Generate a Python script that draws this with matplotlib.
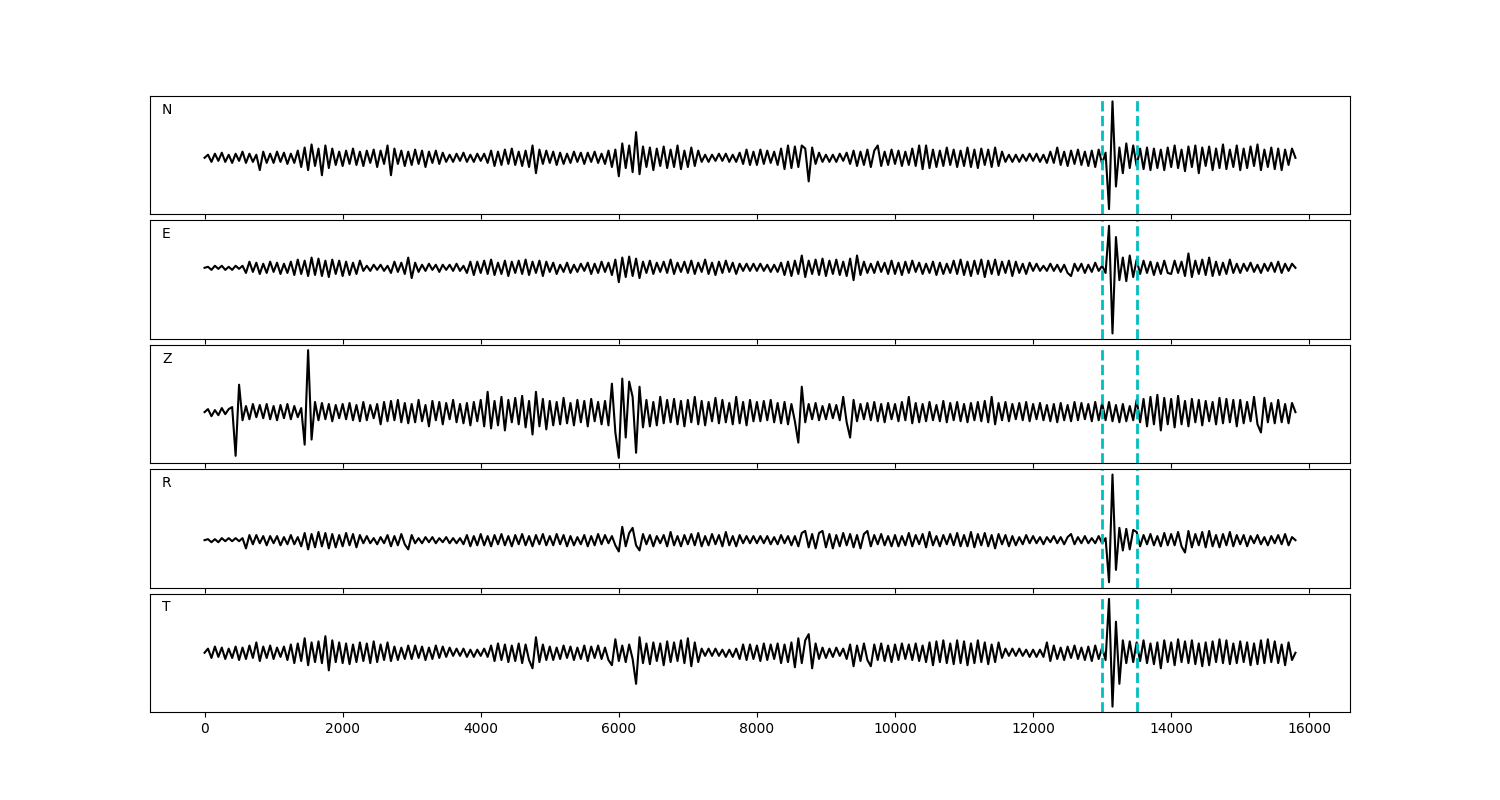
import numpy as np
import matplotlib
matplotlib.use("Agg")
import matplotlib.pyplot as plt

components = ["N", "E", "Z", "R", "T"]
duration = 15800
window_start = 13000
window_end = 13500

N = [
    0, 3, -4, 4, -3, 5, -4, 3, -5, 4, -3, 6, -5, 4, -4, 3, -12, 6, -5, 4,
    -5, 6, -4, 5, -6, 4, -5, 7, -9, 10, -12, 13, -8, 9, -17, 12, -10, 9, -7, 6,
    -8, 7, -6, 9, -7, 6, -8, 7, -5, 8, -9, 7, -6, 12, -17, 9, -6, 7, -8, 6,
    -7, 8, -6, 7, -9, 6, -5, 7, -6, 5, -4, 3, -4, 4, -3, 5, -4, 3, -4, 4,
    -3, 4, -5, 7, -8, 6, -7, 8, -6, 9, -7, 6, -8, 7, -9, 12, -15, 8, -6, 7,
    -5, 6, -7, 5, -6, 4, -5, 6, -4, 5, -6, 5, -4, 6, -5, 4, -6, 7, -9, 8,
    -18, 14, -10, 12, -14, 25, -16, 11, -9, 10, -12, 9, -8, 11, -10, 8, -9, 12, -11, 7,
    -9, 10, -8, 7, -4, 3, -4, 3, -3, 4, -3, 4, -4, 3, -4, 5, -6, 8, -7, 6,
    -7, 8, -6, 7, -5, 6, -7, 9, -11, 12, -10, 11, -9, 12, 9, -23, 10, -6, 5, -4,
    3, -4, 3, -4, 4, -3, 5, -6, 7, -8, 6, -7, 8, -9, 7, 12, -8, 6, -7, 8,
    -6, 7, -8, 6, -7, 9, -8, 12, -11, 12, -10, 8, -9, 7, -8, 10, -7, 8, -9, 7,
    -8, 10, -9, 8, -10, 9, -7, 8, -9, 10, -8, 6, -4, 3, -4, 3, -4, 3, -3, 4,
    -3, 4, -4, 3, -5, 6, -5, 10, -7, 6, -8, 7, -6, 8, -7, 6, -8, 7, -9, 8,
    -6, 5, -50, 55, -28, 10, -15, 14, -10, 12, -8, 9, -11, 10, -12, 9, -10, 8, -12, 10,
    -9, 12, -10, 8, -13, 11, -9, 12, -15, 10, -8, 11, -12, 9, -10, 13, -11, 8, -9, 12,
    -12, 9, -10, 11, -8, 13, -12, 8, -9, 10, -11, 9, -12, 8, -7, 9, 0,
]

E = [
    0, 1, -2, 2, -1, 2, -2, 1, -2, 2, -1, 2, -5, 6, -4, 5, -6, 4, -5, 6,
    -4, 5, -6, 4, -5, 6, -7, 8, -6, 7, -8, 10, -7, 9, -8, 7, -9, 8, -6, 7,
    -8, 6, -7, 5, -6, 7, -3, 2, -3, 3, -2, 3, -3, 2, -5, 6, -4, 5, -6, 10,
    -10, 5, -4, 3, -3, 4, -2, 3, -4, 3, -2, 3, -3, 4, -3, 2, -5, 6, -7, 6,
    -5, 7, -6, 8, -7, 5, -6, 7, -8, 6, -5, 7, -6, 8, -7, 6, -5, 7, -8, 6,
    -4, 5, -6, 3, -4, 5, -5, 3, -4, 4, -3, 5, -6, 4, -5, 6, -4, 5, -7, 8,
    -14, 10, -9, 11, -8, 9, -10, 6, -5, 7, -6, 5, -4, 6, -5, 8, -6, 5, -4, 6,
    -5, 7, -6, 5, -4, 8, -6, 5, -7, 6, -5, 7, -4, 5, -6, 4, -3, 4, -3, 4,
    -3, 4, -3, 3, -4, 3, -4, 5, -7, 6, -8, 7, -6, 12, -9, 7, -6, 8, -7, 9,
    -8, 7, -6, 8, -7, 6, -8, 9, -12, 12, -7, 6, -5, 4, -5, 6, -4, 5, -6, 7,
    -6, 5, -7, 6, -5, 7, -4, 5, -6, 4, -5, 6, -7, 5, -6, 4, -5, 7, -6, 8,
    -7, 6, -8, 7, -6, 8, -9, 7, -6, 8, -7, 6, -5, 7, -8, 6, -5, 4, -6, 5,
    -3, 4, -3, 2, -3, 4, -3, 3, -4, 3, -5, -8, 4, -3, 4, -5, 3, -4, 5, -3,
    2, -5, 41, -64, 30, -12, 10, -13, 12, -9, 8, -6, 7, -5, 6, -7, 5, -6, 7, -5,
    -6, 7, -5, 6, -8, 14, -9, 7, -6, 8, -7, 10, -8, 6, -7, 5, -6, 8, -5, 4,
    -5, 4, -3, 5, -4, 3, -5, 4, -3, 5, -4, 6, -5, 4, -3, 4, 0,
]

Z = [
    0, 3, -4, 2, -3, 4, -2, 3, 5, -43, 27, -8, 6, -7, 8, -5, 7, -6, 8, -7,
    6, -8, 7, -6, 8, -7, 6, -5, 4, -32, 61, -27, 10, -8, 9, -7, 8, -9, 7, -6,
    8, -7, 9, -8, 7, -9, 10, -8, 7, -6, 8, -12, 10, -9, 11, -8, 12, -10, 9, -11,
    8, -10, 12, -9, 7, -14, 11, -8, 10, -12, 9, -7, 12, -10, 8, -11, 9, -13, 10, -9,
    12, -14, 20, -16, 11, -13, 15, -18, 12, -10, 14, -12, 16, -15, 11, -22, 20, -14, 13, -17,
    11, -13, 10, -12, 14, -11, 9, -13, 12, -10, 11, -14, 13, -9, 10, -12, 11, -13, 28, -20,
    -45, 33, -25, 30, 15, -40, 25, -15, 12, -14, 10, -13, 15, -11, 12, -10, 13, -12, 11, -14,
    12, -10, 15, -12, 11, -13, 10, -9, 14, -11, 12, -10, 9, -12, 15, -11, 10, -13, 12, -9,
    10, -9, 11, -8, 12, -10, 9, -11, 10, -12, 8, -9, -30, 25, -10, 8, -7, 9, -8, 6,
    -7, 8, -6, 7, -8, 15, -10, -25, 12, -9, 8, -7, 9, -8, 10, -9, 8, -10, 9, -7,
    8, -9, 10, -8, 15, -11, 9, -10, 8, -9, 10, -8, 7, -9, 11, -10, 9, -8, 10, -9,
    8, -10, 9, -8, 10, -9, 11, -10, 15, -12, 9, -8, 10, -9, 8, -7, 9, -8, 10, -9,
    8, -7, 9, -8, 7, -9, 8, -10, 9, -8, 7, -9, 10, -8, 9, -7, 8, -9, 10, -8,
    9, -8, 10, -9, 7, -10, 8, -9, 6, -8, 12, -10, 13, -14, 15, -12, 17, -18, 14, -12,
    13, -15, 16, -12, 11, -14, 13, -10, 12, -13, 11, -9, 10, -12, 14, -11, 13, -10, 12, -14,
    12, -11, 10, -9, 15, -12, -20, 14, -10, 9, -11, 12, -10, 8, -11, 9, 0,
]

R = [
    0, 1, -2, 1, -2, 2, -1, 2, -1, 2, -1, 2, -8, 5, -4, 5, -3, 4, -5, 4,
    -3, 4, -5, 3, -4, 5, -4, 3, -6, 7, -9, 6, -7, 8, -6, 7, -8, 6, -7, 5,
    -6, 7, -5, 6, -7, 5, -3, 4, -3, 2, -4, 3, -3, 5, -6, 4, -5, 6, -4, -9,
    5, -3, 2, -3, 3, -2, 3, -3, 2, -2, 3, -3, 2, -3, 2, -4, 5, -6, 4, -5,
    6, -5, 4, -6, 5, -4, 6, -5, 4, -6, 5, -4, 6, -5, 4, -6, 5, -4, 6, -5,
    4, -5, 6, -4, 5, -6, 4, -5, 3, -4, 5, -6, 4, -5, 6, -4, 5, -3, 4, -5,
    -11, 13, -6, 7, 12, -5, -10, 6, -4, 5, -6, 4, -3, 5, -6, 8, -5, 4, -6, 5,
    -4, 6, -5, 7, -6, 4, -5, 6, -4, 5, -6, 8, -5, 4, -6, 5, -3, 4, -3, 4,
    -3, 4, -3, 4, -4, 3, -4, 5, -3, 4, -5, 4, -6, 7, 9, -7, 6, -8, 7, 9,
    -7, 6, -8, 5, -6, 7, -5, 6, -7, 5, -8, 6, 9, -6, 5, -4, 6, -5, 4, -6,
    5, -6, 4, -5, 7, -6, 5, -4, 6, -7, 8, -5, 4, -6, 5, -4, 6, -5, 7, -6,
    5, -6, 8, -7, 6, -5, 7, -6, 5, -8, 6, -4, 5, -6, 4, -5, 3, -4, 5, -3,
    4, -3, 3, -4, 3, -2, 4, -3, 3, -4, 3, 6, -4, 3, -3, 4, -3, 2, -3, 4,
    -3, 2, -41, 64, -29, 12, -10, 11, -9, 10, 8, -6, 5, -4, 6, -5, 4, -6, 7, -5,
    6, -5, 8, -6, -12, 9, -7, 6, -5, 8, -7, 9, -6, 5, -7, 6, -5, 8, -6, 5,
    -4, 5, -6, 4, -3, 5, -4, 3, -5, 4, -3, 5, -4, 6, -5, 3, 0,
]

T = [
    0, 4, -5, 6, -4, 5, -6, 4, -5, 6, -7, 5, -6, 7, -5, 10, -8, 6, -5, 7,
    -6, 5, -4, 6, -7, 8, -10, 9, -8, 14, -12, 10, -9, 11, -10, 16, -17, 12, -9, 10,
    -10, 9, -11, 8, -9, 10, -8, 9, -10, 11, -9, 8, -7, 10, -8, 6, -7, 5, -6, 7,
    -6, 7, -5, 6, -7, 5, -6, 7, -5, 6, -4, 5, -3, 4, -3, 4, -4, 3, -4, 3,
    -3, 4, -4, 7, -8, 9, -7, 8, -9, 7, -8, 9, -10, 8, -7, -15, 15, -9, 8, -7,
    6, -7, 5, -6, 7, -5, 6, -7, 5, -6, 7, -8, 6, -5, 7, -6, 5, -7, -12, 13,
    -8, 7, -9, 8, -6, -30, 15, -10, 9, -11, 10, -8, 9, -12, 11, -9, 10, -8, 12, -10,
    14, -13, 10, -9, 4, -3, 4, -3, 4, -3, 3, -4, 3, -4, 4, -6, 8, -7, 8, -6,
    7, -8, 9, -7, 8, -6, 9, -10, 8, -9, 10, -14, 14, -10, 12, 18, -15, 9, -6, 5,
    -5, 4, -4, 5, -3, 4, -6, 8, -13, 7, -8, 9, -7, -13, 8, -7, 9, -8, 7, -9,
    8, -7, 9, -6, 8, -7, 9, -8, 7, -9, 10, -12, 11, -9, 12, -10, 9, -11, 12, -10,
    11, -12, 9, -10, 12, -9, 10, -11, 8, -9, 10, -5, 4, -3, 4, -3, 4, -3, 3, -4,
    3, -4, 3, -4, 10, -8, 7, -6, 5, -7, 6, -5, 7, -6, 5, -7, 6, -8, 7, -6,
    5, -7, 52, -52, 30, -30, 12, -10, 11, -9, 10, -8, 12, -10, 9, -11, 10, -15, 12, -9,
    10, -12, 13, -9, 11, -10, 12, -11, 9, -13, 10, -12, 11, -9, 13, -10, 12, -11, 9, -10,
    11, -9, 10, -12, 9, -11, 12, -10, 13, -9, 11, -10, 8, -12, 10, -7, 0,
]

traces = {"N": N, "E": E, "Z": Z, "R": R, "T": T}

fig, axes = plt.subplots(5, 1, figsize=(15, 8), dpi=100, sharex=True)
fig.subplots_adjust(left=0.1, right=0.9, top=0.88, bottom=0.11, hspace=0.05)

for ax, name in zip(axes, components):
    vals = np.asarray(traces[name], dtype=float)
    t = np.linspace(0, duration, len(vals))
    ax.plot(t, vals, color="black", lw=1.5)
    ax.axvline(window_start, color="c", lw=2, ls="--")
    ax.axvline(window_end, color="c", lw=2, ls="--")
    ax.set_yticks([])
    ax.text(0.01, 0.85, name, transform=ax.transAxes, fontsize=10)

fig.savefig("out.png", dpi=100)
